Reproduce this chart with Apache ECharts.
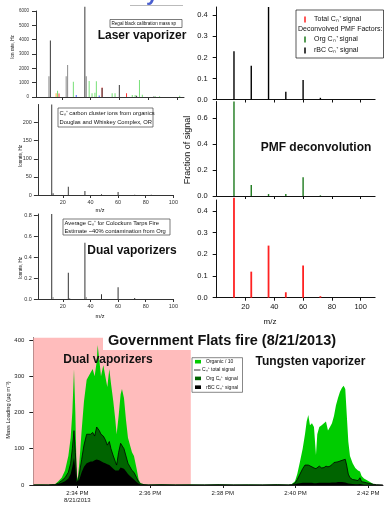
<!DOCTYPE html>
<html><head><meta charset="utf-8">
<script src="https://cdn.jsdelivr.net/npm/echarts@6/dist/echarts.min.js"></script>
<style>html,body{margin:0;padding:0;background:#fff}#c{width:385px;height:525px}</style>
</head><body><div id="c"></div>
<script>
// ---------- Panel 1: Regal black calibration spectrum (ion rate, Hz) ----------
const calCarbon = [[12,3950],[36,6300],[48,620],[60,830],[72,80],[84,40]];
const calGray   = [[11,1450],[23,1450],[24,2230],[37,1450]];
const calGreen  = [[17,440],[28,1070],[39,1120],[41,260],[43,300],[44,1100],[55,260],[57,260],[69,140],[71,140],[74,1190],[76,150],[85,50],[88,50],[102,80]];
const calRed    = [[18,250],[48,660],[65,260]];
const calOrange = [[16,260]];
const calBlue   = [[30,140],[46,100]];
const calYTicks = [0,1000,2000,3000,4000,5000,6000];

// ---------- Panel 2: Cn+ from organics, Douglas and Whiskey Complex ----------
const orgCluster = [[12,250],[13,5],[24,23],[36,11],[48,2],[60,8],[72,1],[84,0.5]];
const orgClusterTicks = [0,50,100,150,200];

// ---------- Panel 3: Colockum Tarps fire average ----------
const colockumMain  = [[12,0.81],[24,0.25],[36,0.536],[48,0.045],[60,0.111],[72,0.01]];
const colockumMinor = [[13,0.02],[25,0.01],[37,0.02]];
const colockumTicks = [0,0.2,0.4,0.6,0.8];

const mzTicks = [20,40,60,80,100];

// ---------- PMF deconvolution (fraction of signal) ----------
const pmfMz     = [12,24,36,48,60,72];
const rbcFrac   = [0.23,0.16,0.44,0.037,0.093,0.008];
const orgFrac   = [0.73,0.085,0.015,0.015,0.145,0.005];
const totalFrac = [0.46,0.12,0.24,0.025,0.148,0.007];
const fracTicksTop = [0,0.1,0.2,0.3,0.4];
const fracTicksMid = [0,0.2,0.4,0.6];
const fracTicksBot = [0,0.1,0.2,0.3,0.4];

// ---------- Government Flats fire time series (minutes after 2:00 PM) ----------
const times = [32.8,33.0,33.2,33.3,
 33.387,33.478,33.57,33.662,33.753,33.817,33.863,33.909,33.946,33.982,34.01,34.055,34.119,34.183,34.257,34.303,34.367,34.422,34.477,34.532,34.56,34.605,34.651,34.715,34.77,34.825,34.88,34.926,34.99,35.045,35.081,35.136,35.191,35.228,35.283,35.338,35.393,35.448,35.503,35.558,35.594,35.631,35.686,35.741,35.833,
 35.95,36.3,36.7,37.1,37.5,37.9,38.3,38.7,39.1,39.5,39.8,
 39.893,39.985,40.048,40.122,40.196,40.26,40.306,40.351,40.397,40.452,40.507,40.562,40.598,40.653,40.719,40.782,40.837,40.892,40.947,41.002,41.057,41.112,41.167,41.222,41.277,41.323,41.368,41.405,41.451,41.497,41.57,41.643,41.717,41.772,41.817,41.882,41.955,42.047,42.138,42.231,
 42.4];
// Organic / 10
const organic10 = [1,1.5,1,2,
 2,10,20,40,80,130,200,320,200,30,15,60,150,230,290,285,310,320,300,340,386,345,300,330,300,270,320,280,230,180,140,190,250,265,240,180,130,110,90,80,75,45,15,5,2,
 1,2,1,1.5,1,2,1,1.5,1,2,1,
 2,10,30,64,100,140,175,193,165,170,160,83,140,160,165,170,175,150,160,170,190,220,240,257,268,274,265,200,120,80,60,47,40,37,25,18,14,8,3,1,
 1];
// Cn+ total signal (= top of the Org Cn+ area, which sits on the rBC Cn+ area)
const cnTotal = [0.5,0.5,0.5,1,
 1,5,12,20,35,60,100,150,90,15,8,30,70,110,140,145,140,145,135,160,160,150,140,135,125,110,120,100,80,65,55,90,115,120,100,80,60,50,40,35,30,20,8,3,1,
 0.5,1,0.5,0.5,0.5,1,0.5,0.5,0.5,1,0.5,
 1,5,15,30,45,55,58,55,52,50,47,45,48,52,47,48,52,50,52,56,62,63,64,66,68,70,71,55,30,20,15,14,12,20,9,8,6,4,2,1,
 0.5];
// rBC Cn+ signal
const rbcCn = [0.3,0.3,0.3,0.5,
 0.5,3,6,10,18,30,50,75,45,8,4,15,35,50,60,62,65,65,68,70,70,68,65,62,60,57,55,52,45,40,35,40,48,50,45,38,30,25,20,15,12,8,4,1,0.5,
 0.3,0.3,0.3,0.3,0.3,0.3,0.3,0.3,0.3,0.3,0.3,
 0.5,2,4,5,6,6,6,6,6,6,5,5,5,6,6,6,6,6,6,7,7,7,8,8,8,8,7,6,4,3,3,2,2,3,2,1,1,1,0.5,0.3,
 0.3];
const timeTicks = [34,36,38,40,42];
const massTicks = [0,100,200,300,400];
const timeMin = 32.79, timeMax = 42.405, massMax = 406;
const dualEnd = 37.12; // end of dual-vaporizer period

const FONT = '"Liberation Sans", Arial, sans-serif';

function pairs(xs, ys){ return xs.map((x,i)=>[x, ys[i]]); }
function bars(data, idx, color, w, clip){
  return {type:'bar', xAxisIndex:idx, yAxisIndex:idx, data:data, barWidth:w, barGap:'-100%',
    itemStyle:{color:color}, clip: clip !== false, silent:true};
}
function xAx(idx, min, max, ticks, labels, fs, color, margin){
  return {type:'value', gridIndex:idx, min:min, max:max,
    axisLine:{show:true, onZero:false, lineStyle:{color:color, width:1}},
    axisTick:{show:true, length:3, customValues:ticks, lineStyle:{color:color}},
    axisLabel:{show:labels, customValues:ticks, fontSize:fs, color:color, margin:margin, fontFamily:FONT},
    splitLine:{show:false}};
}
function yAx(idx, min, max, ticks, fs, color, margin, fmt){
  return {type:'value', gridIndex:idx, min:min, max:max,
    axisLine:{show:true, onZero:false, lineStyle:{color:color, width:1}},
    axisTick:{show:true, length:4, customValues:ticks, lineStyle:{color:color}},
    axisLabel:{show:true, customValues:ticks, fontSize:fs, color:color, margin:margin, fontFamily:FONT,
      formatter: fmt || (v=>String(v))},
    splitLine:{show:false}};
}
function txt(text, x, y, fs, opts){
  opts = opts || {};
  return {type:'text', x:x, y:y, rotation:opts.rot||0, z:100,
    style:{text:text, fontSize:fs, fontFamily:FONT, fontWeight:opts.bold?'bold':'normal',
      fill:opts.color||'#111', align:opts.align||'left', verticalAlign:'middle'}};
}
function box(x,y,w,h,stroke){
  return {type:'rect', z:99, shape:{x:x,y:y,width:w,height:h}, style:{fill:'#fff', stroke:stroke||'#444', lineWidth:0.7}};
}
function tickMark(x,y,color){
  return {type:'line', z:100, shape:{x1:x,y1:y-3,x2:x,y2:y+3}, style:{stroke:color, lineWidth:1.5}};
}
function swatch(x,y,color){
  return {type:'rect', z:100, shape:{x:x,y:y-1.8,width:6,height:3.6}, style:{fill:color}};
}

const gridsL = '#333';
const option = {
  animation:false,
  backgroundColor:'#fff',
  textStyle:{fontFamily:FONT},
  grid:[
    {left:36, top:11, width:148, height:86, outerBoundsMode:'none'},
    {left:37.9, top:104.5, width:135.5, height:90.5, outerBoundsMode:'none'},
    {left:37.9, top:214, width:135.5, height:85, outerBoundsMode:'none'},
    {left:216.7, top:7, width:158.4, height:92.5, outerBoundsMode:'none'},
    {left:216.7, top:101.5, width:158.4, height:94.5, outerBoundsMode:'none'},
    {left:216.7, top:200, width:158.4, height:97.7, outerBoundsMode:'none'},
    {left:33.3, top:337.8, width:349.7, height:147.2, outerBoundsMode:'none'}
  ],
  xAxis:[
    xAx(0, 2, 105, mzTicks, false, 4.5, gridsL, 3),
    xAx(1, 2, 100, mzTicks, true, 5.5, gridsL, 4),
    xAx(2, 2, 100, mzTicks, true, 5.5, gridsL, 4),
    xAx(3, 0, 110, mzTicks, false, 7.5, '#111', 4),
    xAx(4, 0, 110, mzTicks, false, 7.5, '#111', 4),
    xAx(5, 0, 110, mzTicks, true, 7.5, '#111', 5),
    Object.assign(xAx(6, timeMin, timeMax, timeTicks, true, 6, '#222', 5), {
      axisLabel:{show:true, customValues:timeTicks, fontSize:6, color:'#222', margin:5, lineHeight:7, fontFamily:FONT,
        formatter:function(v){ const m = Math.round(v); const s = '2:' + m + ' PM'; return m===34 ? s + '\n8/21/2013' : s; }}
    })
  ],
  yAxis:[
    yAx(0, 0, 6000, calYTicks, 4.5, gridsL, 7),
    yAx(1, 0, 250, orgClusterTicks, 5.5, gridsL, 6),
    yAx(2, 0, 0.81, colockumTicks, 5.5, gridsL, 6, v=>v.toFixed(1)),
    yAx(3, 0, 0.44, fracTicksTop, 7.5, '#111', 9, v=>v.toFixed(1)),
    yAx(4, 0, 0.73, fracTicksMid, 7.5, '#111', 9, v=>v.toFixed(1)),
    yAx(5, 0, 0.45, fracTicksBot, 7.5, '#111', 9, v=>v.toFixed(1)),
    yAx(6, 0, massMax, massTicks, 6, '#222', 9)
  ],
  series:[
    // panel 1
    bars(calRed, 0, '#ff3333', 1),
    bars(calOrange, 0, '#ffaa33', 1),
    bars(calBlue, 0, '#4466ff', 1),
    bars(calGreen, 0, '#77e077', 1),
    bars(calGray, 0, '#8c8c8c', 1),
    bars(calCarbon, 0, '#3a3a3a', 1, false),
    // panel 2
    bars(orgCluster, 1, '#3a3a3a', 1),
    // panel 3
    bars(colockumMinor, 2, '#999', 1),
    bars(colockumMain, 2, '#333', 1),
    // PMF
    bars(pairs(pmfMz, rbcFrac), 3, '#000', 1.4),
    bars(pairs(pmfMz, orgFrac), 4, '#1d7a1d', 1.4),
    bars(pairs(pmfMz, totalFrac), 5, '#ff2222', 1.8, false),
    // time series
    {type:'line', xAxisIndex:6, yAxisIndex:6, data:[], z:1, silent:true,
      markArea:{silent:true, itemStyle:{color:'#ffbcbc'}, data:[[{xAxis:timeMin, yAxis:0},{xAxis:dualEnd, yAxis:massMax}]]}},
    {type:'line', name:'Organic / 10', xAxisIndex:6, yAxisIndex:6, data:pairs(times, organic10), z:2,
      symbol:'none', lineStyle:{width:0}, areaStyle:{color:'#00cc00', opacity:1}, silent:true},
    {type:'line', name:'Org Cn+ signal', xAxisIndex:6, yAxisIndex:6, data:pairs(times, cnTotal), z:3,
      symbol:'none', lineStyle:{width:0}, areaStyle:{color:'#006400', opacity:1}, silent:true},
    {type:'line', name:'rBC Cn+ signal', xAxisIndex:6, yAxisIndex:6, data:pairs(times, rbcCn), z:4,
      symbol:'none', lineStyle:{width:0}, areaStyle:{color:'#000', opacity:1}, silent:true},
    {type:'line', name:'Cn+ total signal', xAxisIndex:6, yAxisIndex:6, data:pairs(times, cnTotal), z:5,
      symbol:'none', lineStyle:{width:0.8, color:'#000'}, silent:true}
  ],
  graphic:[
    // cut-off heading glyph and frame at the very top
    {type:'text', x:146, y:-17, z:100, style:{text:'y', fontSize:22, fontWeight:'bold', fontFamily:FONT, fill:'#4a5fd0'}},
    {type:'line', z:100, shape:{x1:130,y1:5.5,x2:183,y2:5.5}, style:{stroke:'#bbb', lineWidth:1}},
    // panel 1
    box(110, 19.5, 72, 8),
    txt('Regal black calibration mass sp', 111.5, 23.6, 4.6),
    txt('Laser vaporizer', 142, 36, 12, {bold:true, align:'center'}),
    txt('Ion rate, Hz', 13, 47, 4.5, {rot:Math.PI/2, align:'center'}),
    // panel 2
    box(58, 108, 95, 19),
    txt('Cₙ⁺ carbon cluster ions from organics', 59.5, 113, 5.8),
    txt('Douglas and Whiskey Complex, OR', 59.5, 122, 5.8),
    txt('Ionrate, Hz', 21, 156, 4.5, {rot:Math.PI/2, align:'center'}),
    txt('m/z', 100, 210, 5.5, {align:'center'}),
    // panel 3
    box(63, 219, 107, 16),
    txt('Average Cₙ⁺ for Colockum Tarps Fire', 64.5, 223, 5.8),
    txt('Estimate ~40% contamination from Org', 64.5, 231, 5.8),
    txt('Dual vaporizers', 132, 251, 12, {bold:true, align:'center'}),
    txt('Ionrate, Hz', 21, 268, 4.5, {rot:Math.PI/2, align:'center'}),
    txt('m/z', 100, 316, 5.5, {align:'center'}),
    // PMF legend
    box(296, 10, 87.5, 48, '#111'),
    tickMark(305, 19.5, '#ff2222'),
    txt('Total Cₙ⁺ signal', 314, 19.5, 7),
    txt('Deconvolved PMF Factors:', 298, 29, 7),
    tickMark(305, 39.5, '#1d7a1d'),
    txt('Org Cₙ⁺ signal', 314, 39.5, 7),
    tickMark(305, 50.5, '#000'),
    txt('rBC Cₙ⁺ signal', 314, 50.5, 7),
    txt('PMF deconvolution', 316, 148, 12, {bold:true, align:'center'}),
    txt('Fraction of signal', 188, 150, 9, {rot:Math.PI/2, align:'center'}),
    txt('m/z', 270, 322, 8, {align:'center'}),
    // time series
    {type:'rect', z:99, shape:{x:103, y:331, width:240, height:19}, style:{fill:'#fff'}},
    txt('Government Flats fire (8/21/2013)', 222, 340.5, 14.5, {bold:true, align:'center'}),
    txt('Dual vaporizers', 108, 360, 12, {bold:true, align:'center'}),
    txt('Tungsten vaporizer', 310.5, 362, 12, {bold:true, align:'center'}),
    txt('Mass Loading (µg m⁻³)', 8.5, 410, 5.7, {rot:Math.PI/2, align:'center'}),
    box(192, 357.7, 50.5, 34.6, '#555'),
    swatch(195, 361.7, '#00cc00'),
    txt('Organic / 10', 206, 361.7, 5),
    {type:'line', z:100, shape:{x1:194,y1:370,x2:200.5,y2:370}, style:{stroke:'#000', lineWidth:0.8}},
    txt('Cₙ⁺ total signal', 202, 370, 5),
    swatch(195, 378.4, '#006400'),
    txt('Org Cₙ⁺ signal', 206, 378.4, 5),
    swatch(195, 387.2, '#000'),
    txt('rBC Cₙ⁺ signal', 206, 387.2, 5)
  ]
};
const chart = echarts.init(document.getElementById('c'), null, {renderer:'canvas'});
chart.setOption(option);
</script>
</body></html>
